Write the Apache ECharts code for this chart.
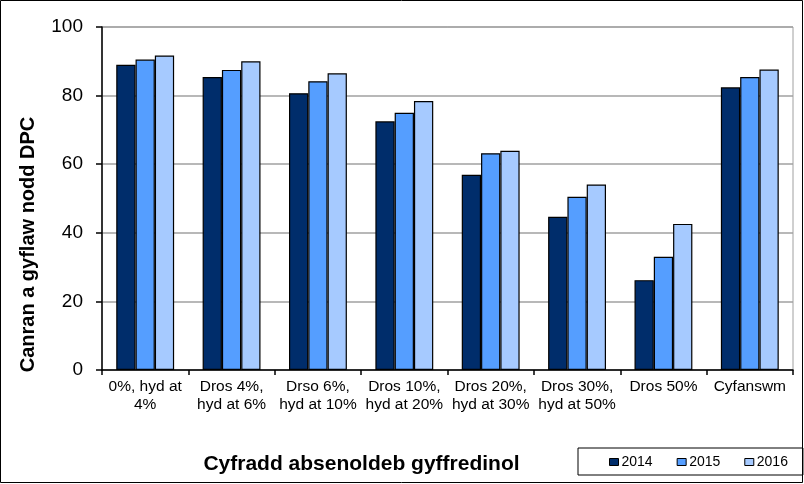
<!DOCTYPE html>
<html>
<head>
<meta charset="utf-8">
<script src="https://cdn.jsdelivr.net/npm/echarts@6/dist/echarts.min.js"></script>
<style>
  html, body { margin: 0; padding: 0; background: #fff; }
  #main { width: 804px; height: 484px; }
</style>
</head>
<body>
<div id="main"></div>
<script>
// categories and values
var categories = [
  '0%, hyd at\n4%',
  'Dros 4%,\nhyd at 6%',
  'Drso 6%,\nhyd at 10%',
  'Dros 10%,\nhyd at 20%',
  'Dros 20%,\nhyd at 30%',
  'Dros 30%,\nhyd at 50%',
  'Dros 50%',
  'Cyfanswm'
];
var years = ['2014', '2015', '2016'];
var values2014 = [89.0, 85.4, 80.7, 72.5, 56.9, 44.7, 26.2, 82.4];
var values2015 = [90.5, 87.5, 84.2, 75.0, 63.2, 50.5, 33.0, 85.4];
var values2016 = [91.7, 90.0, 86.5, 78.4, 63.9, 54.1, 42.6, 87.6];
var yTicks = [0, 20, 40, 60, 80, 100];

var colors = ['#002D6B', '#559EFF', '#A6CAFF'];
var font = 'Liberation Sans, Arial, sans-serif';

var chart = echarts.init(document.getElementById('main'), null, { renderer: 'canvas' });

function bar(name, data, i) {
  return {
    name: name,
    type: 'bar',
    data: data,
    barGap: '0%',
    barCategoryGap: '33%',
    itemStyle: { color: colors[i], borderColor: '#000', borderWidth: 1.2 }
  };
}

var option = {
  animation: false,
  backgroundColor: '#fff',
  textStyle: { fontFamily: font },
  grid: {
    left: 102, right: 11, top: 27, bottom: 114,
    show: true, borderColor: '#A0A0A0', borderWidth: 1
  },
  legend: {
    data: years,
    left: 578, top: 448,
    itemWidth: 9, itemHeight: 7,
    itemGap: 24,
    icon: 'rect',
    padding: [7, 15, 6, 31],
    borderColor: '#000', borderWidth: 1,
    itemStyle: { borderColor: '#000', borderWidth: 1 },
    textStyle: { fontFamily: font, fontSize: 14, color: '#000', padding: [0, 0, 0, -2] }
  },
  xAxis: {
    type: 'category',
    data: categories,
    name: 'Cyfradd absenoldeb gyffredinol',
    nameLocation: 'middle',
    nameGap: 84,
    nameTextStyle: { fontFamily: font, fontSize: 21, fontWeight: 'bold', color: '#000', padding: [0, 172, 0, 0] },
    axisLine: { lineStyle: { color: '#000', width: 1.5 } },
    axisTick: { show: true, length: 5, lineStyle: { color: '#000', width: 1.5 } },
    axisLabel: { fontFamily: font, fontSize: 15.5, color: '#000', lineHeight: 18, margin: 8, interval: 0 }
  },
  yAxis: {
    type: 'value',
    min: yTicks[0],
    max: yTicks[yTicks.length - 1],
    interval: 20,
    name: 'Canran a gyflaw nodd DPC',
    nameLocation: 'middle',
    nameGap: 64,
    nameTextStyle: { fontFamily: font, fontSize: 20, fontWeight: 'bold', color: '#000', padding: [0, 92, 0, 0] },
    axisLine: { show: true, lineStyle: { color: '#000', width: 1.5 } },
    axisTick: { show: true, length: 6, lineStyle: { color: '#000', width: 1.5 } },
    axisLabel: { fontFamily: font, fontSize: 19, color: '#000', margin: 19 },
    splitLine: { lineStyle: { color: '#A0A0A0', width: 1.5 } }
  },
  graphic: [{
    type: 'rect',
    shape: { x: 0.5, y: 0.5, width: 802, height: 482 },
    style: { fill: 'none', stroke: '#000', lineWidth: 1 },
    silent: true
  }],
  series: [
    bar(years[0], values2014, 0),
    bar(years[1], values2015, 1),
    bar(years[2], values2016, 2)
  ]
};

chart.setOption(option);
</script>
</body>
</html>
